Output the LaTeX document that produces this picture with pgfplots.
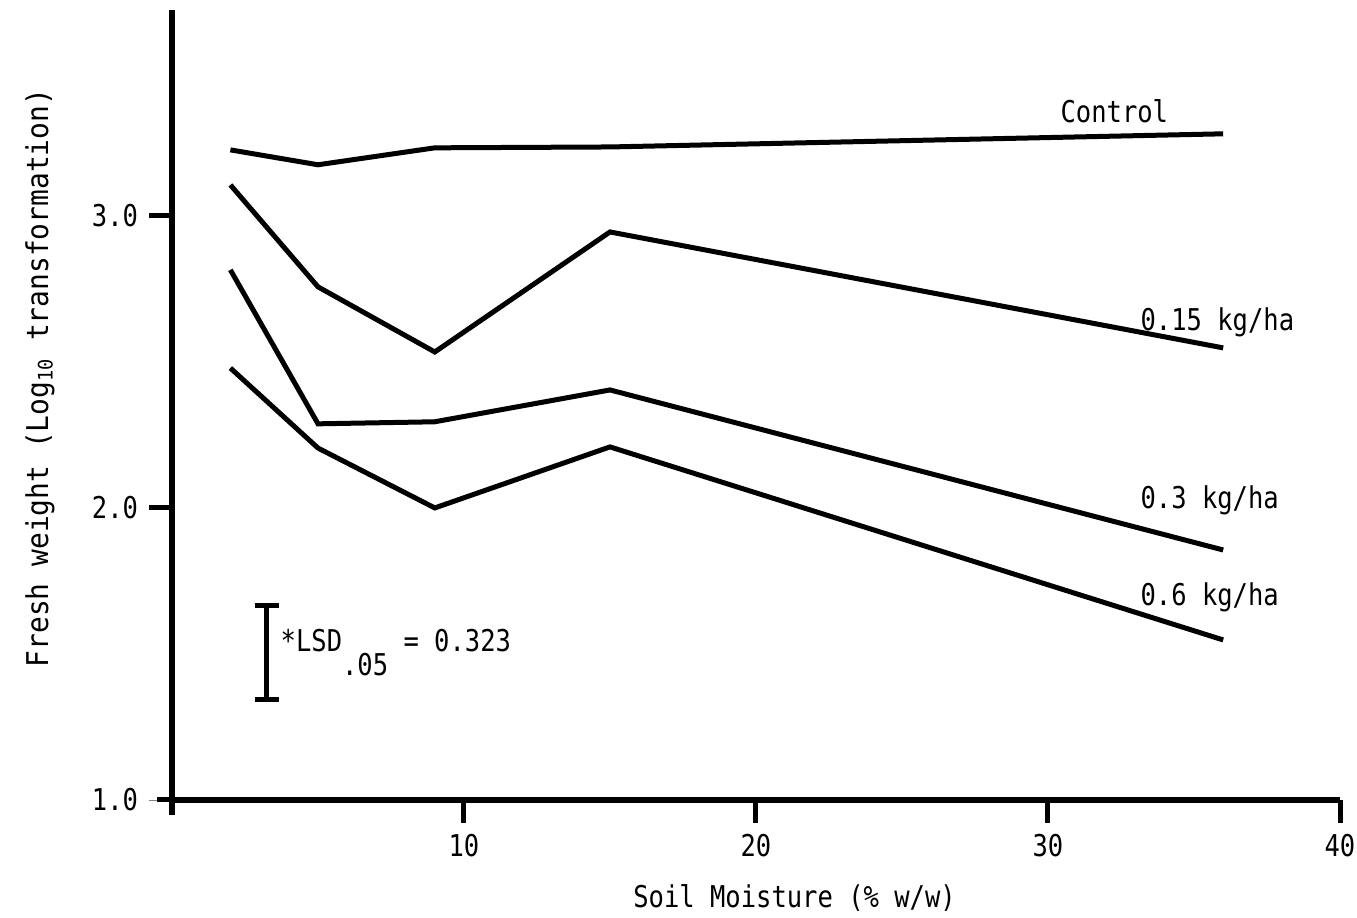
\documentclass[border=0pt]{standalone}
\usepackage{fontspec}
\setmainfont[FakeStretch=0.85]{DejaVu Sans Mono}
\newfontfamily\ylfont[FakeStretch=0.93]{DejaVu Sans Mono}
\usepackage{pgfplots}
\pgfplotsset{compat=1.18}
\pgfplotsset{curve/.style={black, line width=1.5pt, mark=none}}

\begin{document}
\fontsize{9}{11}\selectfont
\begin{tikzpicture}
\begin{axis}[
    width=350.4pt, height=237pt, scale only axis,
    xmin=0, xmax=40, ymin=1, ymax=3.705,
    axis lines=left,
    axis line style={-, line width=1.6pt},
    xtick={10,20,30,40},
    ytick={1,2,3},
    yticklabels={1.0,2.0,3.0},
    tick align=outside,
    major tick length=7pt,
    /pgf/number format/assume math mode=true,
    ticklabel style={font=\fontsize{9}{11}\selectfont},
    xlabel={Soil Moisture (\% w/w)},
    ylabel={\ylfont Fresh weight (Log\textsubscript{10} transformation)},
    xlabel style={at={(axis description cs:0.533,0)}, anchor=center, yshift=-29.4pt},
    ylabel style={at={(axis description cs:-0.113,0.534)}, anchor=center},
    clip=false,
]
% Control
\addplot[curve] coordinates {(2,3.226) (5,3.175) (9,3.233) (15,3.236) (36,3.281)};
% 0.15 kg/ha
\addplot[curve] coordinates {(2,3.106) (5,2.757) (9,2.534) (15,2.945) (36,2.548)};
% 0.3 kg/ha
\addplot[curve] coordinates {(2,2.815) (5,2.288) (9,2.295) (15,2.404) (36,1.856)};
% 0.6 kg/ha
\addplot[curve] coordinates {(2,2.479) (5,2.205) (9,2.0) (15,2.209) (36,1.548)};

% LSD bar
\addplot[curve] coordinates {(3.25,1.3435) (3.25,1.6665)};
\addplot[curve] coordinates {(2.85,1.6665) (3.65,1.6665)};
\addplot[curve] coordinates {(2.85,1.3435) (3.65,1.3435)};
\node[anchor=base west, inner sep=0pt] at (axis cs:3.7,1.507)
  {*LSD\raisebox{-7pt}{.05} = 0.323};

\node[anchor=west, inner sep=0pt] at (axis cs:30.41,3.36) {Control};
\node[anchor=west, inner sep=0pt] at (axis cs:33.15,2.634) {0.15 kg/ha};
\node[anchor=west, inner sep=0pt] at (axis cs:33.15,2.027) {0.3 kg/ha};
\node[anchor=west, inner sep=0pt] at (axis cs:33.15,1.695) {0.6 kg/ha};

\coordinate (O) at (axis cs:0,1);
\coordinate (x10) at (axis cs:10,1);
\coordinate (x20) at (axis cs:20,1);
\coordinate (x30) at (axis cs:30,1);
\coordinate (x40) at (axis cs:40,1);
\coordinate (y2) at (axis cs:0,2);
\coordinate (y3) at (axis cs:0,3);
\end{axis}
% heavy tick strokes as in the typed original
\foreach \c in {x10,x20,x30,x40}
  \draw[line width=1.5pt] (\c) -- ++(0pt,-7pt);
\foreach \c in {y2,y3}
  \draw[line width=1.5pt] (\c) -- ++(-7pt,0pt);
\draw[line width=1.5pt] (O) -- ++(-4.5pt,0pt);
\draw[line width=1.6pt] (O) -- ++(0pt,-4.5pt);
\pgfresetboundingbox
\path (O) ++(-51.6pt,-35.4pt) rectangle ++(407.1pt,275.4pt);
\end{tikzpicture}
\end{document}
